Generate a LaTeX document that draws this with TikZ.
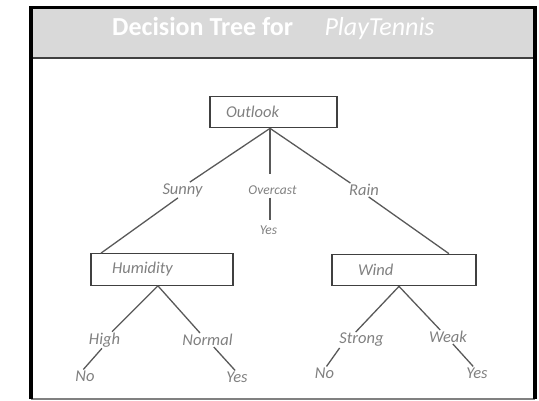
\documentclass[tikz,border=0pt]{standalone}
\usepackage{fontspec}
\setmainfont{Carlito}
\usetikzlibrary{positioning}

\definecolor{headgray}{HTML}{D9D9D9}
\definecolor{labelgray}{HTML}{808080}
\definecolor{linegray}{HTML}{595959}
\definecolor{boxgray}{HTML}{404040}

\tikzstyle{branch} = [line width=1.3pt, draw=linegray]
\tikzstyle{attribute} = [
        rectangle,
        minimum height=31.5pt,
        align=left,
        draw=boxgray,
        line width=1.2pt,
        text=labelgray,
        font=\fontsize{16.5}{18}\selectfont\itshape
    ]
\tikzstyle{value} = [
        inner sep=1pt,
        text=labelgray,
        font=\fontsize{16.5}{18}\selectfont\itshape
    ]
\tikzstyle{smallvalue} = [
        inner sep=1pt,
        text=labelgray,
        font=\fontsize{13.5}{15}\selectfont\itshape
    ]
\tikzstyle{heading} = [inner sep=0pt, text=white, font=\fontsize{26}{28}\selectfont]

\begin{document}
\begin{tikzpicture}[x=1pt, y=-1pt, node distance=78pt]

        \useasboundingbox (0,0) rectangle (539,401);
        \fill [headgray] (31,7.5) rectangle (535,58);
        \draw [boxgray, line width=2pt] (31,58) -- (535,58);
        \draw [gray, line width=1.5pt] (31,399) -- (535,399);
        \draw [line width=3.5pt] (31,399) -- (31,7.5) -- (535,7.5) -- (535,399);

        \node [heading, anchor=base west] (title) at (112,36) {\bfseries Decision Tree for};
        \node [heading, base right=31pt of title] (tennis) {\itshape PlayTennis};

        \node [attribute, text width=95pt, inner xsep=16pt] (outlook) at (273.5,112) {Outlook};
        \node [value, below of=outlook, xshift=-91pt] (sunny) {Sunny};
        \node [smallvalue, below of=outlook, xshift=-1pt] (overcast) {Overcast};
        \node [value, below of=outlook, xshift=90.5pt] (rain) {Rain};
        \node [smallvalue, below of=overcast, yshift=38pt, xshift=-4pt] (yes0) {Yes};

        \node [attribute, text width=100pt, inner xsep=21pt, below of=sunny, yshift=-1.5pt, xshift=-20.5pt] (humidity) {Humidity};
        \node [attribute, text width=92pt, inner xsep=26pt, below of=rain, yshift=-2pt, xshift=40pt] (wind) {Wind};

        \node [value, below of=humidity, yshift=7.5pt, xshift=-57.5pt] (high) {High};
        \node [value, below of=humidity, yshift=7.5pt, xshift=45.5pt] (normal) {Normal};
        \node [value, below of=wind, yshift=8pt, xshift=-42.5pt] (strong) {Strong};
        \node [value, below of=wind, yshift=11pt, xshift=44pt] (weak) {Weak};

        \node [value, below of=high, yshift=42pt, xshift=-19.5pt] (no1) {No};
        \node [value, below of=normal, yshift=41pt, xshift=29.5pt] (yes1) {Yes};
        \node [value, below of=strong, yshift=45pt, xshift=-37pt] (no2) {No};
        \node [value, below of=weak, yshift=42pt, xshift=29pt] (yes2) {Yes};

        \draw [branch] (outlook.258) -- (sunny.47);
        \draw [branch] (sunny.240) -- (humidity.165);
        \draw [branch, shorten >=10pt] (outlook.258) -- (outlook.258 |- overcast.north);
        \draw [branch, shorten <=2pt, shorten >=4pt] (outlook.258 |- overcast.south) -- (outlook.258 |- yes0.north);
        \draw [branch] (outlook.258) -- (rain.153);
        \draw [branch] (rain.304) -- (wind.20);
        \draw [branch] (humidity.256) -- (high.48);
        \draw [branch] (humidity.256) -- (normal.137);
        \draw [branch] (high.253) -- (no1.104);
        \draw [branch] (normal.312) -- (yes1.106);
        \draw [branch] (wind.253) -- (strong.126);
        \draw [branch] (wind.253) -- (weak.138);
        \draw [branch] (strong.200) -- (no2.73);
        \draw [branch] (weak.305) -- (yes2.120);

    \end{tikzpicture}
\end{document}
